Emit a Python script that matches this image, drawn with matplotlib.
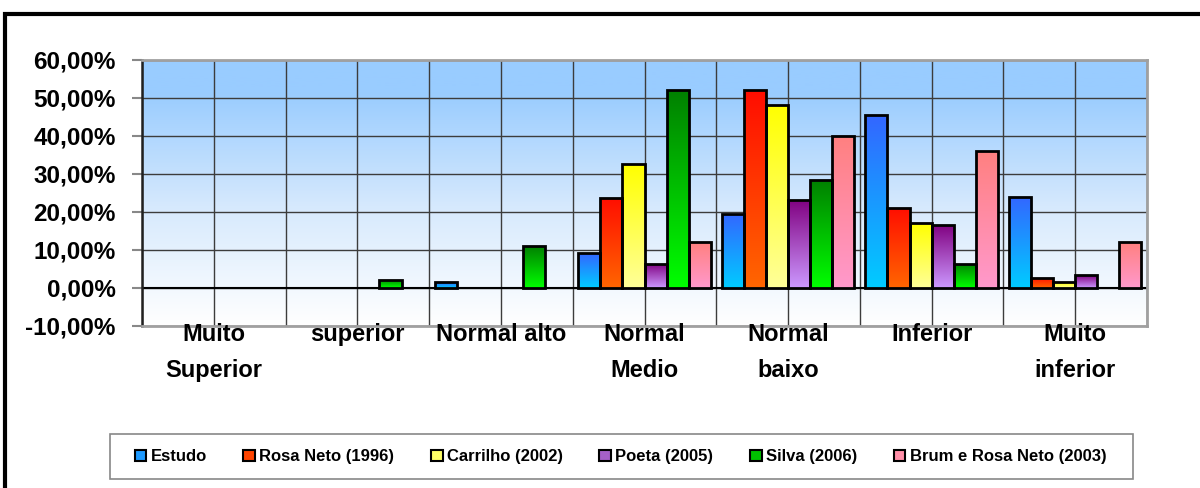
import numpy as np
import matplotlib
matplotlib.use("Agg")
import matplotlib.pyplot as plt
from matplotlib.colors import LinearSegmentedColormap
from matplotlib.patches import Rectangle, Patch
from matplotlib.ticker import FuncFormatter
from matplotlib.transforms import blended_transform_factory

plt.rcParams["font.family"] = ["Liberation Sans", "DejaVu Sans"]
plt.rcParams["font.weight"] = "bold"

CATEGORIES = ["Muito\nSuperior", "superior", "Normal alto", "Normal\nMedio",
              "Normal\nbaixo", "Inferior", "Muito\ninferior"]
SERIES = ["Estudo", "Rosa Neto (1996)", "Carrilho (2002)", "Poeta (2005)",
          "Silva (2006)", "Brum e Rosa Neto (2003)"]

# values in percent
ESTUDO = [0, 0, 1.5, 9.1, 19.5, 45.4, 24.0]
ROSA_NETO = [0, 0, 0, 23.8, 52.0, 21.1, 2.7]
CARRILHO = [0, 0, 0, 32.6, 48.2, 17.0, 1.5]
POETA = [0, 0, 0, 6.4, 23.2, 16.6, 3.3]
SILVA = [0, 2.2, 11.0, 52.0, 28.3, 6.4, 0]
BRUM = [0, 0, 0, 12.0, 39.9, 36.0, 12.0]

VALUES = [ESTUDO, ROSA_NETO, CARRILHO, POETA, SILVA, BRUM]

# (top colour, bottom colour) of each series gradient
GRADIENTS = [("#3366FF", "#00CCFF"), ("#FF0D00", "#FF6600"),
             ("#FFFF00", "#FFFF99"), ("#800080", "#CC99FF"),
             ("#008000", "#00FF00"), ("#FF8080", "#FF99CC")]
LEGEND_COLORS = ["#1E9AFF", "#FF4400", "#FFFF66", "#A660C8", "#00C000", "#FF8FA8"]


def gradient_bar(ax, patch, top, bottom):
    x0, y0 = patch.get_x(), patch.get_y()
    w, h = patch.get_width(), patch.get_height()
    if h <= 0:
        return
    cmap = LinearSegmentedColormap.from_list("g", [top, bottom])
    grad = np.linspace(0, 1, 256)[:, None]
    im = ax.imshow(grad, cmap=cmap, extent=[x0, x0 + w, y0, y0 + h],
                   origin="upper", aspect="auto", zorder=2.5,
                   interpolation="bilinear")
    im.set_clip_path(patch)


fig = plt.figure(figsize=(12, 4.88), dpi=100)
ax = fig.add_axes([142 / 1200, 1 - 326 / 488, 1005 / 1200, 266 / 488])

# plot area background
bg = LinearSegmentedColormap.from_list(
    "bg", [(0, "#99CCFF"), (0.12, "#99CCFF"), (0.55, "#D6E9FD"), (1, "#FFFFFF")])
ax.imshow(np.linspace(0, 1, 256)[:, None], cmap=bg, extent=[0, 1, 0, 1],
          transform=ax.transAxes, origin="upper", aspect="auto", zorder=0)

x = np.arange(len(CATEGORIES))
n = len(SERIES)
width = 0.923 / n
for j, vals in enumerate(VALUES):
    lw = [2 if v > 0 else 0 for v in vals]
    bars = ax.bar(x + (j - (n - 1) / 2) * width, vals, width,
                  facecolor="none", edgecolor="black", linewidth=lw, zorder=3)
    for b in bars:
        gradient_bar(ax, b, *GRADIENTS[j])

ax.axhline(0, color="black", lw=1.5, zorder=2)

ax.set_xlim(-0.5, len(CATEGORIES) - 0.5)
ax.set_ylim(-10, 60)
ax.set_yticks(np.arange(-10, 61, 10))
ax.yaxis.set_major_formatter(FuncFormatter(lambda v, p: f"{v:.2f}%".replace(".", ",")))
ax.set_xticks(np.arange(-0.5, len(CATEGORIES), 0.5))
ax.set_xticklabels([])
ax.tick_params(axis="x", length=0)
ax.tick_params(axis="y", direction="out", length=7, width=1.5, color="#888888",
               pad=12, labelsize=17.5)
for t in ax.get_yticklabels():
    t.set_fontweight("bold")

ax.set_axisbelow(True)
ax.grid(True, color="#3C3C3C", lw=1, zorder=1)

for side in ["top", "right", "bottom"]:
    ax.spines[side].set_color("#A0A0A0")
    ax.spines[side].set_linewidth(2)
ax.spines["left"].set_color("#202020")
ax.spines["left"].set_linewidth(1.8)

trans = blended_transform_factory(ax.transData, ax.transAxes)
for i, lab in enumerate(CATEGORIES):
    ax.text(i, 0.012, lab, transform=trans, ha="center", va="top",
            fontsize=17, fontweight="bold", linespacing=1.75, zorder=5)

# legend
handles = [Patch(facecolor=c, edgecolor="black", linewidth=1.5) for c in LEGEND_COLORS]
fig.legend(handles, SERIES, loc="center", bbox_to_anchor=(0.517, 0.064),
           ncol=n, frameon=False, handlelength=0.7, handleheight=0.7,
           handletextpad=0.25, columnspacing=2.2,
           prop={"weight": "bold", "size": 12})
fig.add_artist(Rectangle((110 / 1200, 1 - 479 / 488), 1023 / 1200, 45 / 488,
                         transform=fig.transFigure, fill=False,
                         edgecolor="#888888", lw=1.2))

# outer chart frame
fig.add_artist(Rectangle((5 / 1200, -0.5), 2, 0.5 + 1 - 14 / 488,
                         transform=fig.transFigure, fill=False,
                         edgecolor="black", lw=3))

fig.savefig("out.png", dpi=100)
